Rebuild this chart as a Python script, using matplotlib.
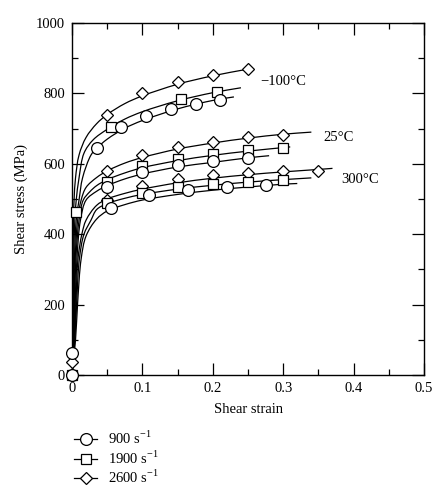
import matplotlib
matplotlib.use("Agg")
import matplotlib.pyplot as plt
import numpy as np
from matplotlib.lines import Line2D
from matplotlib.path import Path
from matplotlib.patches import PathPatch
from matplotlib.ticker import MultipleLocator

plt.rcParams['font.family'] = ['Liberation Serif', 'DejaVu Serif']
plt.rcParams['mathtext.fontset'] = 'custom'
plt.rcParams['mathtext.rm'] = 'Liberation Serif'

# ---- fitted curve points ----
m100_d_x = [0, 0.0008, 0.0012, 0.0016, 0.0022, 0.003, 0.005, 0.01, 0.02, 0.035, 0.05, 0.075, 0.1, 0.15, 0.2, 0.25]
m100_d_y = [0, 100, 200, 330, 450, 500, 560, 625, 675, 714, 740, 771, 793, 826, 850, 869]
m100_s_x = [0, 0.0012, 0.0018, 0.0025, 0.004, 0.006, 0.01, 0.017, 0.03, 0.05, 0.075, 0.1, 0.15, 0.2, 0.24]
m100_s_y = [0, 100, 200, 330, 440, 497, 560, 630, 668, 698, 727, 748, 779, 802, 816]
m100_c_x = [0, 0.0016, 0.0024, 0.0035, 0.006, 0.01, 0.015, 0.027, 0.035, 0.05, 0.075, 0.1, 0.15, 0.2, 0.23]
m100_c_y = [0, 100, 200, 330, 440, 497, 560, 625, 644, 670, 701, 723, 756, 780, 790]

t25_d_x = [0, 0.002, 0.003, 0.0045, 0.008, 0.013, 0.02, 0.035, 0.05, 0.075, 0.1, 0.15, 0.2, 0.25, 0.3, 0.34]
t25_d_y = [0, 100, 200, 330, 440, 497, 533, 561, 580, 602, 618, 642, 659, 673, 684, 690]
t25_s_x = [0, 0.0025, 0.0037, 0.0055, 0.01, 0.016, 0.025, 0.035, 0.05, 0.075, 0.1, 0.15, 0.2, 0.25, 0.31]
t25_s_y = [0, 100, 200, 330, 440, 497, 520, 538, 555, 574, 589, 609, 624, 636, 648]
t25_c_x = [0, 0.003, 0.0045, 0.007, 0.012, 0.02, 0.035, 0.05, 0.075, 0.1, 0.15, 0.2, 0.25, 0.28]
t25_c_y = [0, 100, 200, 330, 440, 497, 522, 538, 557, 571, 591, 604, 617, 623]

t300_d_x = [0, 0.0035, 0.0055, 0.0085, 0.014, 0.02, 0.035, 0.05, 0.075, 0.1, 0.15, 0.2, 0.25, 0.3, 0.35, 0.37]
t300_d_y = [0, 100, 200, 330, 400, 440, 482, 500, 516, 528, 546, 559, 569, 577, 584, 587]
t300_s_x = [0, 0.004, 0.0065, 0.0105, 0.017, 0.027, 0.035, 0.05, 0.075, 0.1, 0.15, 0.2, 0.25, 0.3, 0.34]
t300_s_y = [0, 100, 200, 330, 400, 440, 470, 487, 502, 513, 528, 539, 548, 555, 560]
t300_c_x = [0, 0.005, 0.008, 0.013, 0.02, 0.035, 0.05, 0.075, 0.1, 0.15, 0.2, 0.25, 0.3, 0.32]
t300_c_y = [0, 100, 205, 330, 395, 443, 466, 484, 497, 513, 525, 534, 542, 544]

# ---- measured markers ----
m100_d_mx = [0.05, 0.10, 0.15, 0.20, 0.25]
m100_d_my = [740, 800, 832, 853, 868]
m100_s_mx = [0.055, 0.155, 0.206]
m100_s_my = [705, 785, 804]
m100_c_mx = [0.035, 0.07, 0.105, 0.14, 0.176, 0.21]
m100_c_my = [644, 704, 736, 755, 769, 781]

t25_d_mx = [0.05, 0.10, 0.15, 0.20, 0.25, 0.30]
t25_d_my = [580, 625, 649, 662, 676, 682]
t25_s_mx = [0.005, 0.05, 0.10, 0.15, 0.20, 0.25, 0.30]
t25_s_my = [463, 549, 595, 615, 628, 640, 644]
t25_c_mx = [0.05, 0.10, 0.15, 0.20, 0.25]
t25_c_my = [535, 576, 597, 607, 617]

t300_d_mx = [0.0, 0.0, 0.05, 0.10, 0.15, 0.20, 0.25, 0.30, 0.35]
t300_d_my = [0, 38, 497, 538, 557, 567, 575, 580, 580]
t300_s_mx = [0.0, 0.05, 0.10, 0.15, 0.20, 0.25, 0.30]
t300_s_my = [0, 488, 518, 535, 543, 547, 553]
t300_c_mx = [0.0, 0.0, 0.055, 0.11, 0.165, 0.22, 0.275]
t300_c_my = [0, 63, 474, 510, 525, 533, 539]

temp_labels = ['\u2212100\u00b0C', '25\u00b0C', '300\u00b0C']
temp_label_x = [0.267, 0.357, 0.382]
temp_label_y = [835, 676, 554]
legend_labels = ['900 s$^{-1}$', '1900 s$^{-1}$', '2600 s$^{-1}$']

fig = plt.figure(figsize=(4.48, 5.0), dpi=100)
ax = fig.add_axes([72/448, 125/500, 352/448, 352/500])
ax.set_xlim(0, 0.5)
ax.set_ylim(0, 1000)

mk = {'o': dict(marker='o', ms=8.5), 's': dict(marker='s', ms=7.0), 'D': dict(marker='D', ms=6.5)}

# smooth rendering of the read curve points (centripetal Catmull-Rom as Bezier path)
SX, SY = 704.0, 0.352  # approx. pixels per data unit, only used for smoothing geometry

def smooth_path(xs, ys):
    P = np.column_stack([np.asarray(xs, float) * SX, np.asarray(ys, float) * SY])
    ext = np.vstack([2 * P[0] - P[1], P, 2 * P[-1] - P[-2]])
    verts = [P[0]]
    codes = [Path.MOVETO]
    for i in range(1, len(ext) - 2):
        p0, p1, p2, p3 = ext[i - 1], ext[i], ext[i + 1], ext[i + 2]
        d1 = max(np.linalg.norm(p1 - p0), 1e-9) ** 0.5
        d2 = max(np.linalg.norm(p2 - p1), 1e-9) ** 0.5
        d3 = max(np.linalg.norm(p3 - p2), 1e-9) ** 0.5
        b1 = (d1**2 * p2 - d2**2 * p0 + (2*d1**2 + 3*d1*d2 + d2**2) * p1) / (3 * d1 * (d1 + d2))
        b2 = (d3**2 * p1 - d2**2 * p3 + (2*d3**2 + 3*d3*d2 + d2**2) * p2) / (3 * d3 * (d3 + d2))
        verts += [b1, b2, p2]
        codes += [Path.CURVE4] * 3
    V = np.array(verts)
    V[:, 0] /= SX
    V[:, 1] /= SY
    return Path(V, codes)

curves = [
    (m100_d_x, m100_d_y), (m100_s_x, m100_s_y), (m100_c_x, m100_c_y),
    (t25_d_x, t25_d_y), (t25_s_x, t25_s_y), (t25_c_x, t25_c_y),
    (t300_d_x, t300_d_y), (t300_s_x, t300_s_y), (t300_c_x, t300_c_y),
]
for xs, ys in curves:
    ax.add_patch(PathPatch(smooth_path(xs, ys), facecolor='none', edgecolor='black', lw=0.9, zorder=2))

markers = [
    (m100_d_mx, m100_d_my, 'D'), (m100_s_mx, m100_s_my, 's'), (m100_c_mx, m100_c_my, 'o'),
    (t25_d_mx, t25_d_my, 'D'), (t25_s_mx, t25_s_my, 's'), (t25_c_mx, t25_c_my, 'o'),
    (t300_d_mx, t300_d_my, 'D'), (t300_s_mx, t300_s_my, 's'), (t300_c_mx, t300_c_my, 'o'),
]
for xs, ys, m in markers:
    ax.plot(xs, ys, linestyle='none', mfc='white', mec='black', mew=0.9, zorder=3, clip_on=False, **mk[m])

for t, x, y in zip(temp_labels, temp_label_x, temp_label_y):
    ax.text(x, y, t, fontsize=10.5, va='center', ha='left')

ax.xaxis.set_major_locator(MultipleLocator(0.1))
ax.xaxis.set_minor_locator(MultipleLocator(0.05))
ax.yaxis.set_major_locator(MultipleLocator(200))
ax.yaxis.set_minor_locator(MultipleLocator(100))
ax.set_xticks([0, 0.1, 0.2, 0.3, 0.4, 0.5])
ax.set_xticklabels(['0', '0.1', '0.2', '0.3', '0.4', '0.5'])
ax.tick_params(which='both', direction='in', top=True, right=True, labelsize=10.5, width=0.9)
ax.tick_params(axis='x', pad=5)
ax.tick_params(axis='y', pad=5)
ax.tick_params(which='major', length=8.5)
ax.tick_params(which='minor', length=4.5)
for s in ax.spines.values():
    s.set_linewidth(1.0)
ax.set_xlabel('Shear strain', fontsize=10.5, labelpad=6)
ax.set_ylabel('Shear stress (MPa)', fontsize=10.5, labelpad=6)

handles = [Line2D([], [], color='black', lw=0.9, mfc='white', mec='black', mew=0.9, **mk[m]) for m in ['o', 's', 'D']]
fig.legend(handles, legend_labels, loc='upper left', bbox_to_anchor=(74/448, 1 - 430/500),
           frameon=False, fontsize=10.5, handlelength=1.6, handletextpad=0.7, labelspacing=0.15,
           borderaxespad=0, borderpad=0)

fig.savefig('out.png', dpi=100)
